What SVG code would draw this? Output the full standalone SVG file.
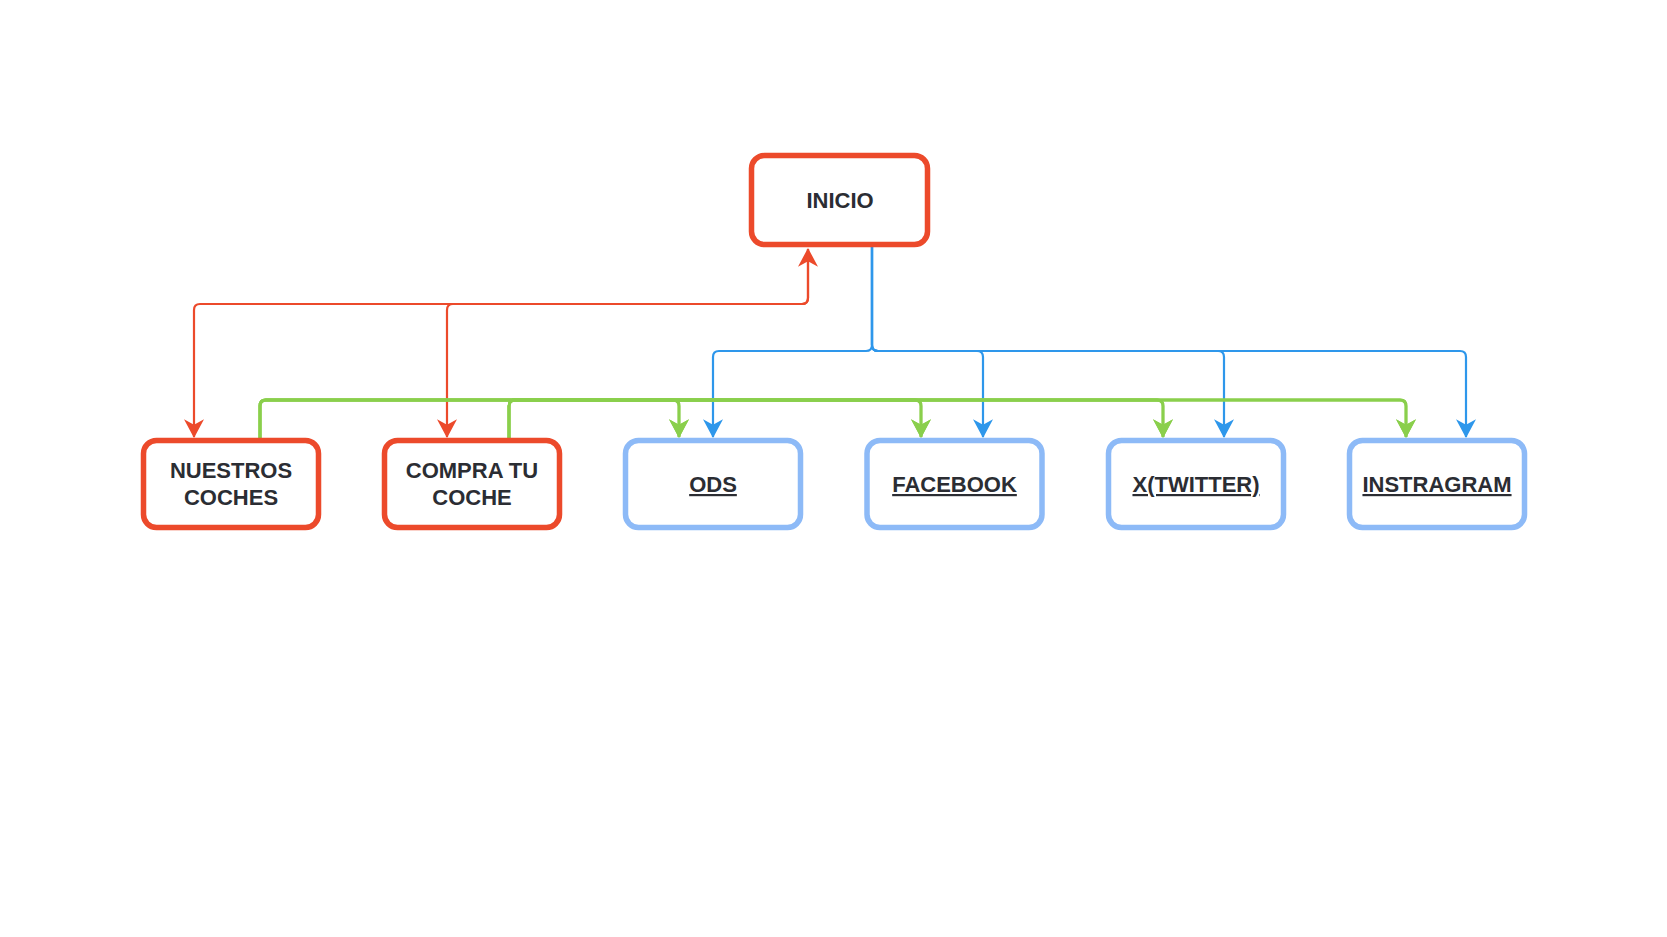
<svg xmlns="http://www.w3.org/2000/svg" width="1667" height="937" viewBox="0 0 1667 937">
<style>
.red{fill:#fff;stroke:#EC4A2B;stroke-width:5.5}
.blue{fill:#fff;stroke:#8DBAF7;stroke-width:5.5}
.lbl{font-family:"Liberation Sans",Arial,sans-serif;font-weight:bold;font-size:22px;fill:#2B2D33;text-anchor:middle}
.u{text-decoration:underline}
.er{fill:none;stroke:#EC4A2B;stroke-width:2.2}
.eb{fill:none;stroke:#2E97EB;stroke-width:2.2}
.eg{fill:none;stroke:#8ACF4C;stroke-width:2.8}
</style>
<defs>
<marker id="ar" markerUnits="userSpaceOnUse" markerWidth="20" markerHeight="20" viewBox="0 0 18 18" refX="16" refY="9" orient="auto-start-reverse"><path d="M0,0 L17,9 L0,18 L5,9 Z" fill="#EC4A2B"/></marker>
<marker id="ab" markerUnits="userSpaceOnUse" markerWidth="20" markerHeight="20" viewBox="0 0 18 18" refX="16" refY="9" orient="auto"><path d="M0,0 L17,9 L0,18 L5,9 Z" fill="#2E97EB"/></marker>
<marker id="ag" markerUnits="userSpaceOnUse" markerWidth="20" markerHeight="20" viewBox="0 0 18 18" refX="16" refY="9" orient="auto"><path d="M0,0 L17,9 L0,18 L5,9 Z" fill="#8ACF4C"/></marker>
</defs>
<rect width="1667" height="937" fill="#fff"/>
<g id="connectors">
<path class="er" marker-start="url(#ar)" marker-end="url(#ar)" d="M808,249 V298 Q808,304 802,304 H200 Q194,304 194,310 V437"/>
<path class="er" marker-end="url(#ar)" d="M808,249 V298 Q808,304 802,304 H453 Q447,304 447,310 V437"/>
<path class="eb" marker-end="url(#ab)" d="M872,247 V345 Q872,351 866,351 H719 Q713,351 713,357 V437"/>
<path class="eb" marker-end="url(#ab)" d="M872,247 V345 Q872,351 878,351 H977 Q983,351 983,357 V437"/>
<path class="eb" marker-end="url(#ab)" d="M872,247 V345 Q872,351 878,351 H1218 Q1224,351 1224,357 V437"/>
<path class="eb" marker-end="url(#ab)" d="M872,247 V345 Q872,351 878,351 H1460 Q1466,351 1466,357 V437"/>
<path class="eg" marker-end="url(#ag)" d="M260,438 V406 Q260,400 266,400 H673 Q679,400 679,406 V437"/>
<path class="eg" marker-end="url(#ag)" d="M260,438 V406 Q260,400 266,400 H915 Q921,400 921,406 V437"/>
<path class="eg" marker-end="url(#ag)" d="M260,438 V406 Q260,400 266,400 H1157 Q1163,400 1163,406 V437"/>
<path class="eg" marker-end="url(#ag)" d="M260,438 V406 Q260,400 266,400 H1400 Q1406,400 1406,406 V437"/>
<path class="eg" marker-end="url(#ag)" d="M509,438 V406 Q509,400 515,400 H673 Q679,400 679,406 V437"/>
<path class="eg" marker-end="url(#ag)" d="M509,438 V406 Q509,400 515,400 H915 Q921,400 921,406 V437"/>
<path class="eg" marker-end="url(#ag)" d="M509,438 V406 Q509,400 515,400 H1157 Q1163,400 1163,406 V437"/>
<path class="eg" marker-end="url(#ag)" d="M509,438 V406 Q509,400 515,400 H1400 Q1406,400 1406,406 V437"/>
</g>
<g id="inicio">
<rect class="red" x="751.5" y="155.5" width="176" height="89" rx="13"/>
<text class="lbl" x="840" y="208">INICIO</text>
</g>
<g id="nuestros-coches">
<rect class="red" x="143.5" y="440.5" width="175" height="87" rx="13"/>
<text class="lbl" x="231" y="478">NUESTROS</text>
<text class="lbl" x="231" y="505">COCHES</text>
</g>
<g id="compra-tu-coche">
<rect class="red" x="384.5" y="440.5" width="175" height="87" rx="13"/>
<text class="lbl" x="472" y="478">COMPRA TU</text>
<text class="lbl" x="472" y="505">COCHE</text>
</g>
<g id="ods">
<rect class="blue" x="625.5" y="440.5" width="175" height="87" rx="13"/>
<text class="lbl u" x="713" y="492">ODS</text>
</g>
<g id="facebook">
<rect class="blue" x="867" y="440.5" width="175" height="87" rx="13"/>
<text class="lbl u" x="954.5" y="492">FACEBOOK</text>
</g>
<g id="twitter">
<rect class="blue" x="1108.5" y="440.5" width="175" height="87" rx="13"/>
<text class="lbl u" x="1196" y="492">X(TWITTER)</text>
</g>
<g id="instragram">
<rect class="blue" x="1349.5" y="440.5" width="175" height="87" rx="13"/>
<text class="lbl u" x="1437" y="492">INSTRAGRAM</text>
</g>
</svg>
